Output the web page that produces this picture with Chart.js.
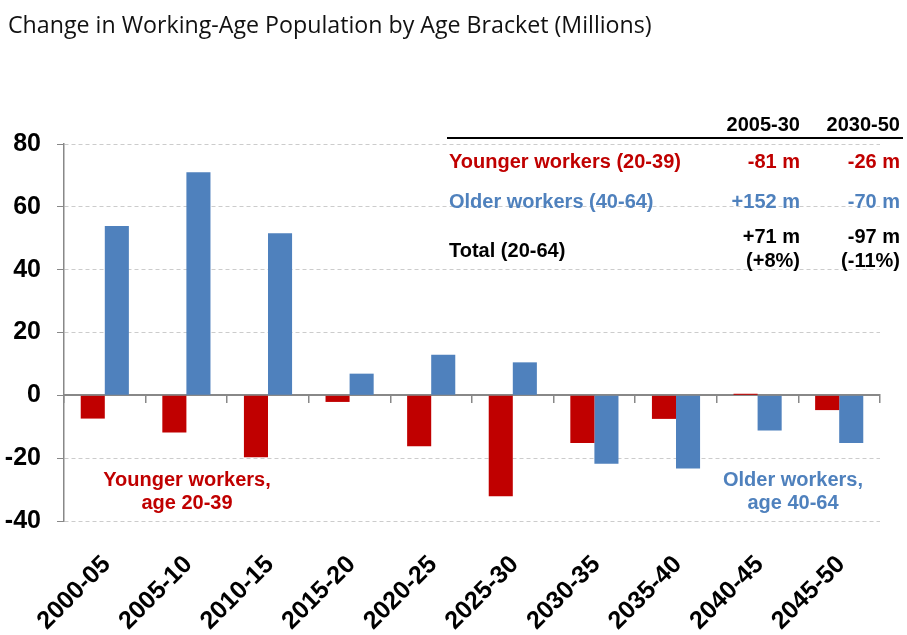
<!DOCTYPE html>
<html lang="en">
<head>
<meta charset="UTF-8">
<title>Change in Working-Age Population by Age Bracket</title>
<script src="https://cdn.jsdelivr.net/npm/chart.js@4.4.1/dist/chart.umd.min.js"></script>
<style>
    body { margin: 0; background: #fff; }
    .wrap { position: relative; width: 907px; height: 635px; overflow: hidden; }
    #chart { position: absolute; left: 0; top: 0; }
    .title { position: absolute; left: 8px; top: 8px; font-family: "Open Sans", sans-serif; font-size: 21px; color: #111; white-space: nowrap; }
    .txt { position: absolute; font-family: "Liberation Sans", Arial, sans-serif; font-weight: bold; font-size: 20px; line-height: 20px; white-space: nowrap; }
    .rule { position: absolute; left: 447px; top: 137px; width: 456px; height: 2px; background: #000; }
    .note { position: absolute; width: 240px; text-align: center; font-family: "Liberation Sans", Arial, sans-serif; font-weight: bold; font-size: 20px; line-height: 23px; }
</style>
</head>
<body>
<div class="wrap">
    <canvas id="chart" width="907" height="635"></canvas>
    <div class="title" id="title">Change in Working-Age Population by Age Bracket (Millions)</div>
    <div id="table"></div>
    <div class="rule"></div>
    <div class="note" style="left:67px; top:468px; color:#C00000">Younger workers,<br>age 20-39</div>
    <div class="note" style="left:673px; top:468px; color:#4F81BD">Older workers,<br>age 40-64</div>
</div>

<script>
    const periods = ["2000-05", "2005-10", "2010-15", "2015-20", "2020-25",
                     "2025-30", "2030-35", "2035-40", "2040-45", "2045-50"];
    // millions of people, change over each five-year period
    const youngerWorkers = [-7.4, -11.8, -19.7, -2.1, -16.2, -32.1, -15.2, -7.5, 0.5, -4.7];
    const olderWorkers = [53.9, 71.0, 51.6, 6.9, 12.9, 10.5, -21.8, -23.3, -11.2, -15.2];
    const yTicks = [-40, -20, 0, 20, 40, 60, 80];

    // summary box, top right
    const summaryCols = ["2005-30", "2030-50"];
    const summaryRows = [
        { name: "Younger workers (20-39)", color: "#C00000", values: ["-81 m", "-26 m"] },
        { name: "Older workers (40-64)", color: "#4F81BD", values: ["+152 m", "-70 m"] },
        { name: "Total (20-64)", color: "#000", values: ["+71 m<br>(+8%)", "-97 m<br>(-11%)"] }
    ];

    const RED = "#C00000";
    const BLUE = "#4F81BD";
    const GREY = "#888888";

    // fit the title to its line width
    const title = document.getElementById("title");
    title.style.fontSize = (21 * 644 / title.offsetWidth).toFixed(2) + "px";

    // build summary table
    let html = "";
    const colRight = [907 - 800, 907 - 900];
    summaryCols.forEach((c, i) => {
        html += `<div class="txt" style="right:${colRight[i]}px; top:114px; color:#000">${c}</div>`;
    });
    const rowTop = [151, 191, 226];
    summaryRows.forEach((r, j) => {
        const nameTop = j === 2 ? 240 : rowTop[j];
        html += `<div class="txt" style="left:449px; top:${nameTop}px; color:${r.color}">${r.name}</div>`;
        r.values.forEach((v, i) => {
            html += `<div class="txt" style="right:${colRight[i]}px; top:${rowTop[j]}px; color:${r.color}; text-align:right; line-height:24px; margin-top:-2px">${v}</div>`;
        });
    });
    document.getElementById("table").innerHTML = html;

    const boldFont = { family: "'Liberation Sans', Arial, sans-serif", size: 25, weight: "bold" };

    new Chart(document.getElementById("chart"), {
        type: "bar",
        data: {
            labels: periods,
            datasets: [
                { label: "Younger workers", data: youngerWorkers, backgroundColor: RED },
                { label: "Older workers", data: olderWorkers, backgroundColor: BLUE }
            ]
        },
        options: {
            responsive: false,
            animation: false,
            categoryPercentage: 0.59,
            barPercentage: 1.0,
            layout: { padding: { top: 144, right: 27, left: 0, bottom: 0 } },
            plugins: {
                legend: { display: false },
                tooltip: { enabled: false }
            },
            scales: {
                x: {
                    grid: { display: false },
                    border: { display: false },
                    ticks: { font: boldFont, color: "#000", minRotation: 45, maxRotation: 45, autoSkip: false, padding: 21, labelOffset: 2 },
                    afterFit: s => { s.height = 114; }
                },
                // zero line with category tick marks
                x2: {
                    type: "category",
                    axis: "x",
                    position: { y: 0 },
                    offset: true,
                    grid: { offset: true, drawOnChartArea: false, color: GREY, tickColor: GREY, tickLength: 7, lineWidth: 1.5 },
                    border: { color: GREY, width: 2 },
                    ticks: { display: false }
                },
                y: {
                    min: -40,
                    max: 80,
                    afterBuildTicks: s => { s.ticks = yTicks.map(v => ({ value: v })); },
                    ticks: { font: boldFont, color: "#000", padding: 16 },
                    grid: {
                        color: c => (c.tick && c.tick.value === 0) ? "rgba(0,0,0,0)" : "#cccccc",
                        tickColor: GREY,
                        tickLength: 7
                    },
                    border: { color: GREY, width: 1.5, dash: [4, 3] },
                    afterFit: s => { s.width = 64; }
                }
            }
        }
    });
</script>
</body>
</html>
